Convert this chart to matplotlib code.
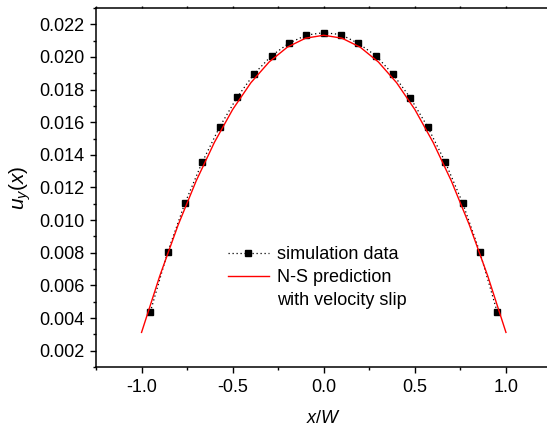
import matplotlib
matplotlib.use("Agg")
import matplotlib.pyplot as plt
from matplotlib.ticker import MultipleLocator, FormatStrFormatter
from matplotlib.lines import Line2D

# simulation data (squares, dotted line)
sim_x = [-0.952, -0.857, -0.762, -0.667, -0.571, -0.476, -0.381, -0.286, -0.190, -0.095, 0.0,
         0.095, 0.190, 0.286, 0.381, 0.476, 0.571, 0.667, 0.762, 0.857, 0.952]
sim_u = [0.00437, 0.00803, 0.01104, 0.01355, 0.01572, 0.01752, 0.01898, 0.02008, 0.02085, 0.02134, 0.02149,
         0.02137, 0.02083, 0.02008, 0.01893, 0.01748, 0.01570, 0.01355, 0.01106, 0.00803, 0.00437]

# N-S prediction with velocity slip (red line)
ns_x = [-1.0, -0.9, -0.8, -0.7, -0.6, -0.5, -0.4, -0.3, -0.2, -0.1, 0.0,
        0.1, 0.2, 0.3, 0.4, 0.5, 0.6, 0.7, 0.8, 0.9, 1.0]
ns_u = [0.00312, 0.00658, 0.00968, 0.01241, 0.01477, 0.01678, 0.01842, 0.01969, 0.02060, 0.02115, 0.02133,
        0.02115, 0.02060, 0.01969, 0.01842, 0.01678, 0.01477, 0.01241, 0.00968, 0.00658, 0.00312]

plt.rcParams['font.family'] = ['Liberation Sans', 'DejaVu Sans']
plt.rcParams['mathtext.fontset'] = 'custom'
plt.rcParams['mathtext.rm'] = 'Liberation Sans'
plt.rcParams['mathtext.it'] = 'Liberation Sans:italic'

fig = plt.figure(figsize=(5.47, 4.29), dpi=100)
ax = fig.add_axes([96 / 547, 62 / 429, 455.5 / 547, 359 / 429])

sim_line, = ax.plot(sim_x, sim_u, color='black', linestyle=(0, (1, 2.2)), linewidth=0.9,
                    marker='s', markersize=4.5, markerfacecolor='black', markeredgecolor='black')
ns_line, = ax.plot(ns_x, ns_u, color='red', linewidth=1.0)

ax.set_xlim(-1.25, 1.25)
ax.set_ylim(0.001, 0.023)
ax.xaxis.set_major_locator(MultipleLocator(0.5))
ax.xaxis.set_minor_locator(MultipleLocator(0.25))
ax.yaxis.set_major_locator(MultipleLocator(0.002))
ax.yaxis.set_minor_locator(MultipleLocator(0.001))
ax.xaxis.set_major_formatter(FormatStrFormatter('%.1f'))
ax.yaxis.set_major_formatter(FormatStrFormatter('%.3f'))

for s in ax.spines.values():
    s.set_linewidth(1.1)
ax.tick_params(axis='both', which='major', direction='out', length=4.5, width=1.0,
               labelsize=13, pad=4)
ax.tick_params(axis='both', which='minor', direction='out', length=2.5, width=1.0)
ax.tick_params(axis='x', which='both', top=True, labeltop=False)
for t in ax.xaxis.get_ticklines(minor=False)[1::2] + ax.xaxis.get_ticklines(minor=True)[1::2]:
    t.set_markersize(1.5)

ax.set_xlabel(r'$x/W$', fontsize=13, labelpad=10)
ax.set_ylabel(r'$u_y(x)$', fontsize=15, labelpad=4)

blank = Line2D([], [], color='none')
ax.legend([sim_line, ns_line, blank],
          ['simulation data', 'N-S prediction', 'with velocity slip'],
          loc='upper left', bbox_to_anchor=(0.269, 0.362), frameon=False, fontsize=13,
          numpoints=1, handlelength=2.3, handletextpad=0.45, labelspacing=0.32, borderpad=0)

fig.savefig('out.png', dpi=100)
